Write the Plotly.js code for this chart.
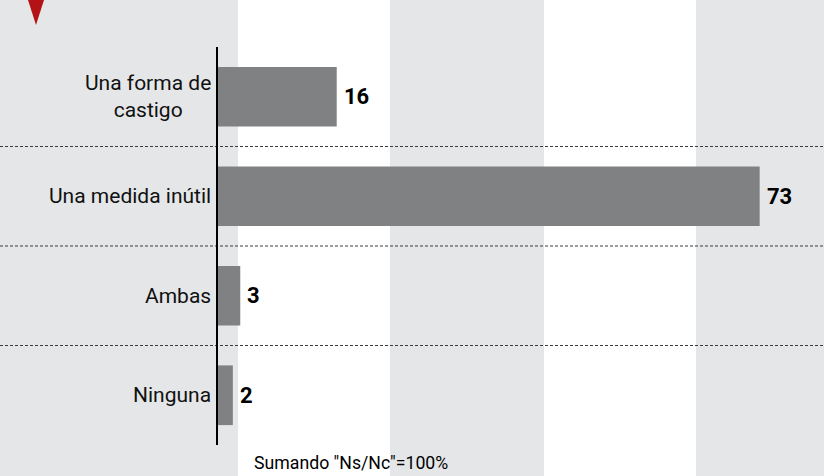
<!DOCTYPE html>
<html>
<head>
<meta charset="utf-8">
<script src="https://cdn.plot.ly/plotly-3.0.1.min.js"></script>
<style>html,body{margin:0;padding:0;background:#fff;}#chart{width:824px;height:476px;}</style>
</head>
<body>
<div id="chart"></div>
<script>
const categories = ["Una forma de<br>castigo", "Una medida inútil", "Ambas", "Ninguna"];
const values = [16, 73, 3, 2];
const footnote = 'Sumando "Ns/Nc"=100%';

const FONT = "Roboto, 'Noto Sans', sans-serif";
const L = 218, W = 824 - L;
const px = p => (p - L) / W;

const shapes = [];
// background stripes
[[0, 238], [390, 544], [696, 824]].forEach(([a, b]) => {
  shapes.push({type: 'rect', xref: 'paper', yref: 'paper', x0: px(a), x1: px(b), y0: -0.2, y1: 1.3,
    fillcolor: '#e5e6e8', line: {width: 0}, layer: 'below'});
});
// dashed separators
for (let i = 0; i < categories.length - 1; i++) {
  shapes.push({type: 'line', xref: 'paper', yref: 'y', x0: px(0), x1: 1, y0: i + 0.5, y1: i + 0.5,
    line: {color: '#3a3a3a', width: 1, dash: '3px,2px'}, layer: 'below'});
}
// red triangle marker
shapes.push({type: 'path', xref: 'paper', yref: 'paper',
  path: `M ${px(28)} ${(445 - 0) / 398} L ${px(44)} ${(445 - 0) / 398} L ${px(36)} ${(445 - 25) / 398} Z`,
  fillcolor: '#b31217', line: {width: 0}});

// value labels
const annotations = values.map((v, i) => ({
  x: v, y: categories[i], xref: 'x', yref: 'y', text: '<b>' + v + '</b>',
  showarrow: false, xanchor: 'left', yanchor: 'middle', xshift: 5,
  font: {family: FONT, size: 22, color: '#000'}
}));
// category labels (centre-aligned lines, right edge near the axis)
categories.forEach(c => annotations.push({
  x: 0, y: c, xref: 'paper', yref: 'y', text: c, showarrow: false,
  xanchor: 'right', yanchor: 'middle', align: 'center', xshift: -5,
  font: {family: FONT, size: 21, color: '#111'}
}));
annotations.push({x: px(252), y: (445 - 463) / 398, xref: 'paper', yref: 'paper', text: footnote,
  showarrow: false, xanchor: 'left', yanchor: 'middle', font: {family: FONT, size: 17.7, color: '#000'}});

const data = [{
  type: 'bar', orientation: 'h', y: categories, x: values,
  marker: {color: '#808183', line: {width: 0}}, hoverinfo: 'skip', cliponaxis: false
}];

const layout = {
  width: 824, height: 476,
  margin: {l: L, r: 0, t: 47, b: 31},
  paper_bgcolor: '#fff', plot_bgcolor: 'rgba(0,0,0,0)',
  bargap: 0.4,
  showlegend: false,
  xaxis: {range: [0, W / 7.42], visible: false, fixedrange: true},
  yaxis: {range: [3.5, -0.5], showgrid: false, zeroline: false, showline: true, linecolor: '#000', linewidth: 2,
    ticks: '', showticklabels: false},
  shapes: shapes,
  annotations: annotations
};

Plotly.newPlot('chart', data, layout, {displayModeBar: false, staticPlot: true});
</script>
</body>
</html>
